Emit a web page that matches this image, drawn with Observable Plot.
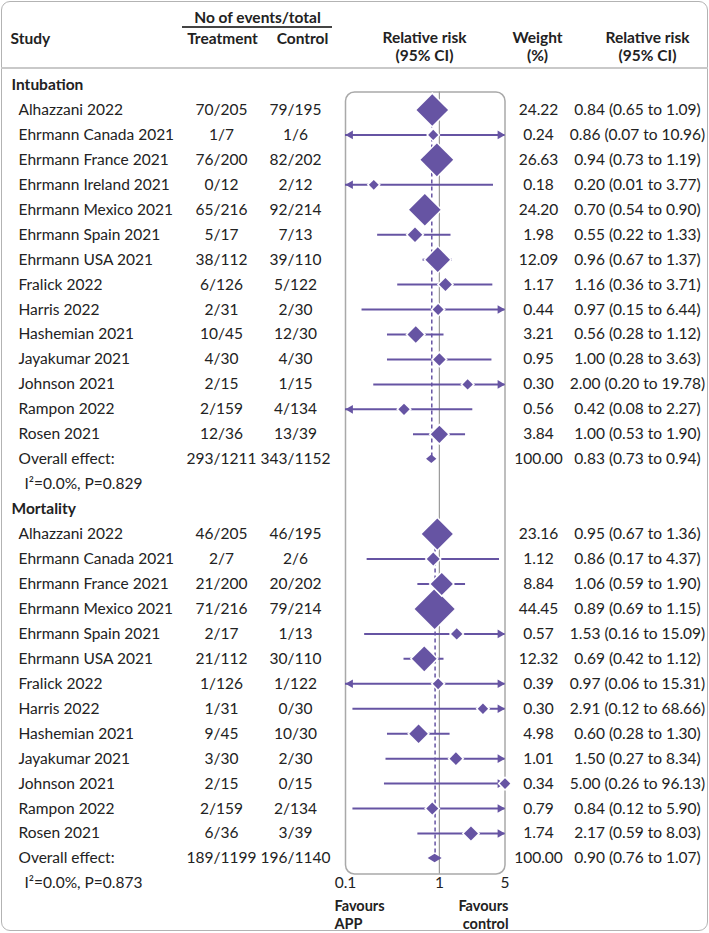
<!DOCTYPE html>
<html><head><meta charset="utf-8">
<script src="https://cdn.jsdelivr.net/npm/d3@7"></script>
<script src="https://cdn.jsdelivr.net/npm/@observablehq/plot@0.6"></script>
<style>
body{margin:0;background:#fff;}
#wrap{position:relative;width:709px;height:933px;overflow:hidden;}
#wrap svg{position:absolute;left:0;top:0;background:transparent;}
.deco{position:absolute;pointer-events:none;z-index:2;box-sizing:border-box;}
.border{left:0.5px;top:0.5px;width:707.5px;height:930.5px;border:1.5px solid #b3b3b3;border-radius:9px;}
.sep{left:1px;right:1px;top:67px;height:2px;background:#c9c9c9;}
.ul{left:182px;width:150px;top:26px;height:1.5px;background:#444;}
</style></head>
<body><div id="wrap"></div>
<script>
// ---------- data ----------
const sectionNames = ["Intubation", "Mortality"];

const intubStudy = ["Alhazzani 2022","Ehrmann Canada 2021","Ehrmann France 2021","Ehrmann Ireland 2021","Ehrmann Mexico 2021","Ehrmann Spain 2021","Ehrmann USA 2021","Fralick 2022","Harris 2022","Hashemian 2021","Jayakumar 2021","Johnson 2021","Rampon 2022","Rosen 2021"];
const intubTreat = ["70/205","1/7","76/200","0/12","65/216","5/17","38/112","6/126","2/31","10/45","4/30","2/15","2/159","12/36"];
const intubCtrl  = ["79/195","1/6","82/202","2/12","92/214","7/13","39/110","5/122","2/30","12/30","4/30","1/15","4/134","13/39"];
const intubWeight = [24.22,0.24,26.63,0.18,24.20,1.98,12.09,1.17,0.44,3.21,0.95,0.30,0.56,3.84];
const intubRR = [0.84,0.86,0.94,0.20,0.70,0.55,0.96,1.16,0.97,0.56,1.00,2.00,0.42,1.00];
const intubLo = [0.65,0.07,0.73,0.01,0.54,0.22,0.67,0.36,0.15,0.28,0.28,0.20,0.08,0.53];
const intubHi = [1.09,10.96,1.19,3.77,0.90,1.33,1.37,3.71,6.44,1.12,3.63,19.78,2.27,1.90];

const mortStudy = ["Alhazzani 2022","Ehrmann Canada 2021","Ehrmann France 2021","Ehrmann Mexico 2021","Ehrmann Spain 2021","Ehrmann USA 2021","Fralick 2022","Harris 2022","Hashemian 2021","Jayakumar 2021","Johnson 2021","Rampon 2022","Rosen 2021"];
const mortTreat = ["46/205","2/7","21/200","71/216","2/17","21/112","1/126","1/31","9/45","3/30","2/15","2/159","6/36"];
const mortCtrl  = ["46/195","2/6","20/202","79/214","1/13","30/110","1/122","0/30","10/30","2/30","0/15","2/134","3/39"];
const mortWeight = [23.16,1.12,8.84,44.45,0.57,12.32,0.39,0.30,4.98,1.01,0.34,0.79,1.74];
const mortRR = [0.95,0.86,1.06,0.89,1.53,0.69,0.97,2.91,0.60,1.50,5.00,0.84,2.17];
const mortLo = [0.67,0.17,0.59,0.69,0.16,0.42,0.06,0.12,0.28,0.27,0.26,0.12,0.59];
const mortHi = [1.36,4.37,1.90,1.15,15.09,1.12,15.31,68.66,1.30,8.34,96.13,5.90,8.03];

const overallLabel = "Overall effect:";
const overallTreat = ["293/1211","189/1199"];
const overallCtrl  = ["343/1152","196/1140"];
const overallWeight = [100.00,100.00];
const overallRR = [0.83,0.90];
const overallLo = [0.73,0.76];
const overallHi = [0.94,1.07];
const heterogeneity = ["I\u00B2=0.0%, P=0.829","I\u00B2=0.0%, P=0.873"];

const xTicks = [0.1, 1, 5];
const xDomain = [0.1, 5];
const headerLabels = ["Study","No of events/total","Treatment","Control","Relative risk\n(95% CI)","Weight\n(%)","Relative risk\n(95% CI)"];
const favourLabels = ["Favours\nAPP","Favours\ncontrol"];

// ---------- build rows ----------
const sections = [
  {study:intubStudy,treat:intubTreat,ctrl:intubCtrl,weight:intubWeight,rr:intubRR,lo:intubLo,hi:intubHi},
  {study:mortStudy,treat:mortTreat,ctrl:mortCtrl,weight:mortWeight,rr:mortRR,lo:mortLo,hi:mortHi}
];
let row = 0;
const headRows = [], studyRows = [], overallRows = [], hetRows = [];
sections.forEach((s, i) => {
  headRows.push({row: row++, name: sectionNames[i]});
  const first = row;
  s.study.forEach((name, j) => studyRows.push({row: row++, name, treat: s.treat[j], ctrl: s.ctrl[j], weight: s.weight[j], rr: s.rr[j], lo: s.lo[j], hi: s.hi[j]}));
  overallRows.push({row: row++, first, name: overallLabel, treat: overallTreat[i], ctrl: overallCtrl[i], weight: overallWeight[i], rr: overallRR[i], lo: overallLo[i], hi: overallHi[i]});
  hetRows.push({row: row++, text: heterogeneity[i]});
});
const tableRows = [...studyRows, ...overallRows];
const dh = 0.17;
const diamondPts = overallRows.flatMap(d => [
  {g: d.row, row: d.row - dh, x1: d.rr, x2: d.rr},
  {g: d.row, row: d.row, x1: d.lo, x2: d.hi},
  {g: d.row, row: d.row + dh, x1: d.rr, x2: d.rr}
]);

// ---------- layout ----------
const W = 709, H = 933;
const box = {left: 345, right: 504.5, top: 91.5, bottom: 873.5};
const rowY0 = 84.5, rowStep = 24.95;
const col = {section: 11, name: 18, het: 24, treat: 221, ctrl: 295, weight: 538, rrText: 637};
const hdr = [
  {x: 10, y: 38, a: "start"}, {x: 257, y: 17, a: "middle"}, {x: 222, y: 38, a: "middle"},
  {x: 302, y: 38, a: "middle"}, {x: 424, y: 46, a: "middle"}, {x: 537, y: 46, a: "middle"},
  {x: 647, y: 46, a: "middle"}
];
const purple = "#6654a3";
const fmt = v => v.toFixed(2);
const nRows = row - 1;
const FS = 15.5;

const textCol = (data, text, x, anchor = "middle", extra = {}) =>
  Plot.text(data, {y: "row", text, frameAnchor: "left", dx: x - box.left, textAnchor: anchor, ...extra});

const chart = Plot.plot({
  width: W, height: H,
  marginLeft: box.left, marginRight: W - box.right, marginTop: box.top, marginBottom: H - box.bottom,
  x: {type: "log", domain: xDomain, range: [box.left, box.right], clamp: true, label: null},
  y: {domain: [0, nRows], range: [rowY0, rowY0 + rowStep * nRows], axis: null},
  r: {type: "sqrt", domain: [0, d3.max(tableRows.filter(d => d.weight < 100), d => d.weight)], range: [3.5, 18]},
  style: {fontFamily: "Lato, sans-serif", fontSize: FS + "px", color: "#222", background: "transparent"},
  marks: [
    Plot.frame({rx: 9, stroke: "#a9a9a9", strokeWidth: 1.5}),
    Plot.ruleX([1], {stroke: "#9a9a9a", strokeWidth: 1.2}),
    Plot.ruleX(overallRows, {x: "rr", y1: "first", y2: "row", stroke: purple, strokeWidth: 1.5, strokeDasharray: "4,3"}),
    Plot.ruleY(studyRows, {y: "row", x1: "lo", x2: "hi", stroke: purple, strokeWidth: 2}),
    Plot.dot(studyRows.filter(d => d.lo < xDomain[0]), {x: "lo", y: "row", symbol: "triangle", rotate: -90, r: 3.2, fill: purple, stroke: "none", dx: 4.9}),
    Plot.dot(studyRows.filter(d => d.hi > xDomain[1]), {x: "hi", y: "row", symbol: "triangle", rotate: 90, r: 3.2, fill: purple, stroke: "none", dx: -4.9}),
    Plot.dot(studyRows, {x: "rr", y: "row", r: "weight", symbol: "diamond2", fill: purple, stroke: "white", strokeWidth: 3, paintOrder: "stroke"}),
    Plot.areaX(diamondPts, {y: "row", x1: "x1", x2: "x2", z: "g", fill: purple, curve: "linear"}),
    Plot.axisX({ticks: xTicks, tickFormat: d => String(d), tickSize: 0, tickPadding: 3, fontSize: FS, label: null}),
    // header
    ...headerLabels.map((t, i) => Plot.text([t], {frameAnchor: "top-left", lineAnchor: "middle", dx: hdr[i].x - box.left, dy: hdr[i].y - box.top, textAnchor: hdr[i].a, fontWeight: "bold", lineHeight: 1.15})),
    // table
    textCol(headRows, "name", col.section, "start", {fontWeight: "bold"}),
    textCol(tableRows, "name", col.name, "start"),
    textCol(tableRows, "treat", col.treat),
    textCol(tableRows, "ctrl", col.ctrl),
    textCol(tableRows, d => fmt(d.weight), col.weight),
    textCol(tableRows, d => `${fmt(d.rr)} (${fmt(d.lo)} to ${fmt(d.hi)})`, col.rrText),
    textCol(hetRows, "text", col.het, "start"),
    // favours
    Plot.text([favourLabels[0]], {frameAnchor: "bottom-left", lineAnchor: "middle", dx: 334 - box.left, dy: 914 - box.bottom, textAnchor: "start", fontWeight: "bold", lineHeight: 1.22, fontSize: 14.5}),
    Plot.text([favourLabels[1]], {frameAnchor: "bottom-right", lineAnchor: "middle", dx: 508 - box.right, dy: 914 - box.bottom, textAnchor: "end", fontWeight: "bold", lineHeight: 1.22, fontSize: 14.5})
  ]
});
const wrap = document.getElementById("wrap");
wrap.appendChild(chart);
for (const c of ["border", "sep", "ul"]) {
  const d = document.createElement("div");
  d.className = "deco " + c;
  wrap.appendChild(d);
}
</script>
</body></html>
